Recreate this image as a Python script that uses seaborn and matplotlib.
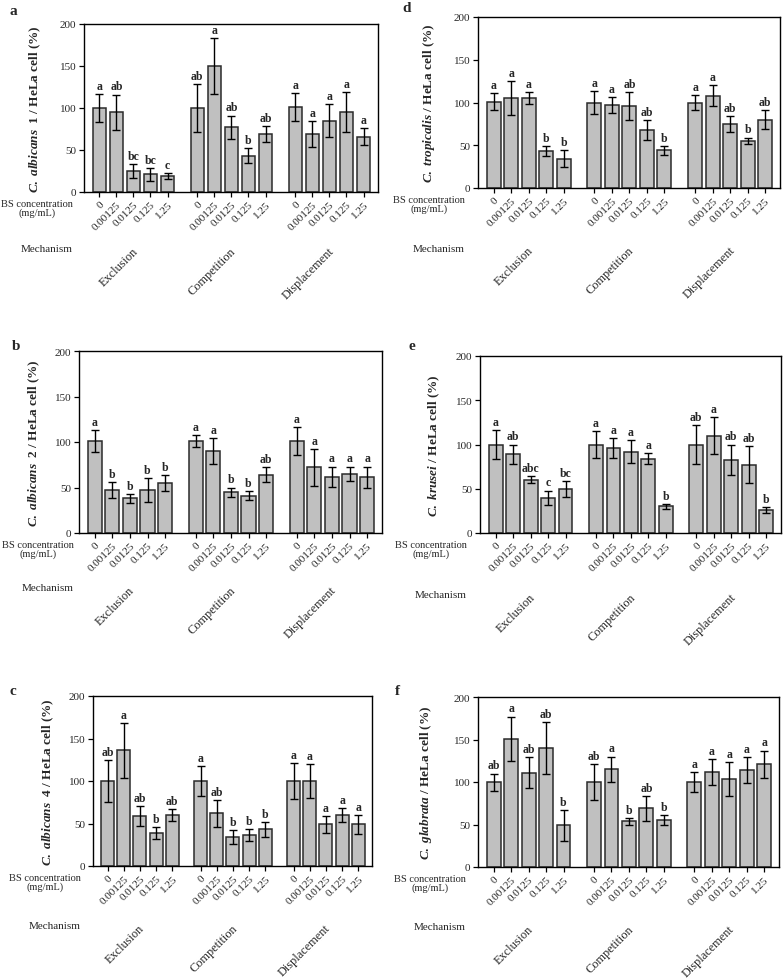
import numpy as np
import pandas as pd
import matplotlib
matplotlib.use("Agg")
import matplotlib.pyplot as plt
import seaborn as sns

# ---------------- data ----------------
concentrations = ["0", "0.00125", "0.0125", "0.125", "1.25"]
mechanisms = ["Exclusion", "Competition", "Displacement"]

a_vals = [100, 95, 25, 21, 19, 100, 150, 77, 43, 69, 101, 69, 85, 95, 66]
a_errs = [17, 21, 8, 8, 4, 29, 33, 14, 9, 10, 17, 15, 20, 24, 10]
a_lets = ["a", "ab", "bc", "bc", "c", "ab", "a", "ab", "b", "ab", "a", "a", "a", "a", "a"]

b_vals = [101, 47, 38, 47, 55, 101, 90, 45, 41, 64, 101, 72, 62, 65, 61]
b_errs = [12, 9, 5, 13, 9, 7, 14, 5, 5, 8, 15, 20, 11, 8, 12]
b_lets = ["a", "b", "b", "b", "b", "a", "a", "b", "b", "ab", "a", "a", "a", "a", "a"]

c_vals = [100, 136, 59, 39, 60, 100, 62, 34, 36, 43, 100, 100, 49, 60, 49]
c_errs = [25, 32, 12, 7, 7, 18, 16, 8, 7, 9, 21, 20, 10, 8, 11]
c_lets = ["ab", "a", "ab", "b", "ab", "a", "ab", "b", "b", "b", "a", "a", "a", "a", "a"]

d_vals = [101, 105, 105, 43, 34, 100, 97, 96, 68, 44, 100, 108, 75, 55, 80]
d_errs = [10, 20, 7, 6, 10, 13, 9, 16, 12, 5, 9, 12, 9, 4, 11]
d_lets = ["a", "a", "a", "b", "b", "a", "a", "ab", "ab", "b", "a", "a", "ab", "b", "ab"]

e_vals = [100, 89, 60, 40, 50, 100, 96, 92, 84, 30, 100, 110, 83, 77, 26]
e_errs = [16, 11, 4, 8, 9, 15, 11, 13, 6, 3, 22, 21, 17, 21, 3]
e_lets = ["a", "ab", "abc", "c", "bc", "a", "a", "a", "a", "b", "ab", "a", "ab", "ab", "b"]

f_vals = [100, 151, 111, 140, 49, 100, 115, 54, 69, 55, 100, 112, 104, 114, 121]
f_errs = [10, 26, 18, 31, 18, 21, 15, 4, 15, 6, 12, 15, 20, 15, 16]
f_lets = ["ab", "a", "ab", "ab", "b", "ab", "a", "b", "ab", "b", "a", "a", "a", "a", "a"]

ylabels = {
    "a": r"$\mathit{C.\ albicans}$  1 / HeLa cell (%)",
    "b": r"$\mathit{C.\ albicans}$  2 / HeLa cell (%)",
    "c": r"$\mathit{C.\ albicans}$  4 / HeLa cell (%)",
    "d": r"$\mathit{C.\ tropicalis}$ / HeLa cell (%)",
    "e": r"$\mathit{C.\ krusei}$ / HeLa cell (%)",
    "f": r"$\mathit{C.\ glabrata}$ / HeLa cell (%)",
}
yticks = [0, 50, 100, 150, 200]

# ---------------- style ----------------
sns.set_style("ticks")
plt.rcParams["font.family"] = ["Liberation Serif", "DejaVu Serif"]
plt.rcParams["mathtext.fontset"] = "custom"
plt.rcParams["mathtext.it"] = "Liberation Serif:italic:bold"
plt.rcParams["mathtext.rm"] = "Liberation Serif:bold"
plt.rcParams["mathtext.bf"] = "Liberation Serif:bold"

W, H = 784, 979
PT = 0.72  # points per pixel at dpi 100
fig = plt.figure(figsize=(W / 100, H / 100), dpi=100)

group_offsets = [0.0, 5.75, 11.5]
positions = [g + i for g in group_offsets for i in range(5)]
group_centers = [g + 2 for g in group_offsets]

# panel: (left, right, top, bottom) px, ylabel offset px, mech offset px,
#        left-label offset px, letter pos
layout = {
    "a": ((84, 378, 25, 193), 41, 57, 11, (10, 15), (a_vals, a_errs, a_lets)),
    "d": ((478, 780, 18, 189), 41, 60, 13, (402, 12), (d_vals, d_errs, d_lets)),
    "b": ((79, 382, 352, 534), 37, 55, 5, (12, 350), (b_vals, b_errs, b_lets)),
    "e": ((480, 781, 357, 534), 38, 62, 13, (409, 350), (e_vals, e_errs, e_lets)),
    "c": ((93, 372, 697, 867), 37, 60, 12, (10, 695), (c_vals, c_errs, c_lets)),
    "f": ((478, 779, 698, 868), 44, 60, 12, (395, 695), (f_vals, f_errs, f_lets)),
}

for key, (box, ylo, mecho, llo, lpos, (vals, errs, lets)) in layout.items():
    l, r, t, b = box
    ax = fig.add_axes([l / W, 1 - b / H, (r - l) / W, (b - t) / H])
    df = pd.DataFrame({"pos": positions, "value": vals})
    sns.barplot(data=df, x="pos", y="value", native_scale=True, width=0.8,
                color="#c0c0c0", saturation=1, edgecolor="#2b2b2b",
                linewidth=1.1, errorbar=None, ax=ax, zorder=2)
    ax.errorbar(positions, vals, yerr=errs, fmt="none", ecolor="black",
                elinewidth=1.0, capsize=2.8, capthick=1.0, zorder=3)
    for x, v, e, s in zip(positions, vals, errs, lets):
        ax.annotate(s, xy=(x, v + e), xytext=(0, 1.5), textcoords="offset points",
                    ha="center", va="bottom", fontsize=8.5, fontweight="bold")
    ax.set_xlim(-0.9, 16.35)
    ax.set_ylim(0, 200)
    ax.set_yticks(yticks)
    ax.set_yticklabels([str(v) for v in yticks], fontsize=8)
    ax.set_xticks(positions)
    ax.set_xticklabels(concentrations * 3, rotation=45, ha="right",
                       rotation_mode="anchor", fontsize=8)
    ax.tick_params(axis="both", direction="out", length=3.5, width=0.9,
                   color="black", pad=2)
    for sp in ax.spines.values():
        sp.set_visible(True)
        sp.set_color("black")
        sp.set_linewidth(1.0)
    ax.set_xlabel("")
    ax.set_ylabel(ylabels[key], fontsize=9.5, fontweight="bold")
    ax.yaxis.set_label_coords(-ylo / (r - l), 0.5)

    # left-side row labels
    ax.annotate("BS concentration\n(mg/mL)", xy=(0, 0), xycoords="axes fraction",
                xytext=(-llo * PT, -16 * PT), textcoords="offset points",
                ha="right", va="center", multialignment="center", fontsize=7.5,
                linespacing=1.0)
    ax.annotate("Mechanism", xy=(0, 0), xycoords="axes fraction",
                xytext=(-llo * PT, -mecho * PT), textcoords="offset points",
                ha="right", va="center", fontsize=8)
    for gc, m in zip(group_centers, mechanisms):
        ax.annotate(m, xy=(gc, 0), xycoords=("data", "axes fraction"),
                    xytext=(2, -mecho * PT), textcoords="offset points",
                    ha="right", va="center", rotation=45, rotation_mode="anchor",
                    fontsize=8.8)

    fig.text(lpos[0] / W, 1 - lpos[1] / H, key, fontsize=11, fontweight="bold",
             ha="left", va="baseline")

fig.savefig("out.png", dpi=100)
